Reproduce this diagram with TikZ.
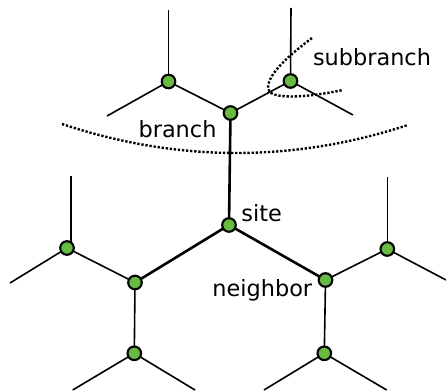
\documentclass[tikz,border=0pt]{standalone}
\usepackage{fontspec}
\setmainfont{DejaVu Sans}
\definecolor{sitegreen}{HTML}{66BB40}
\begin{document}
\begin{tikzpicture}[x=1pt,y=-1pt,
  site/.style={circle,draw=black,fill=sitegreen,line width=2.1pt,inner sep=0pt,minimum size=13.6pt},
  thin edge/.style={line width=1.6pt},
  thick edge/.style={line width=2.6pt},
  dotline/.style={line width=2.4pt,dash pattern=on 2.3pt off 1.8pt},
  lbl/.style={anchor=base,inner sep=0pt,font=\fontsize{22.4}{26}\selectfont}]
\useasboundingbox (0,0) rectangle (446,390);
% site coordinates
\coordinate (S) at (229,225);
\coordinate (B) at (230.5,113);
\coordinate (A) at (168.5,81.5);
\coordinate (C) at (290.5,81);
\coordinate (L) at (135,282.5);
\coordinate (R) at (325.5,280);
\coordinate (FL) at (67,248);
\coordinate (FR) at (387.3,249);
\coordinate (LB) at (134.3,353.3);
\coordinate (RB) at (324.3,353.3);
% free ends
\coordinate (a1) at (168.5,10);
\coordinate (a2) at (107,116);
\coordinate (c1) at (291,8);
\coordinate (c2) at (353,115);
\coordinate (fl1) at (70.7,176);
\coordinate (fl2) at (10,283);
\coordinate (fr1) at (387.3,177);
\coordinate (fr2) at (446,280);
\coordinate (lb1) at (72.7,390);
\coordinate (lb2) at (195,390);
\coordinate (rb1) at (264,390);
\coordinate (rb2) at (386.7,390);
% dotted curves
\coordinate (d1) at (62,124);
\coordinate (d2) at (408,125);
\draw[dotline] (d1) .. controls (177.3,162.3) and (292.7,162.7) .. (d2);
\coordinate (e1) at (312,38);
\coordinate (e2) at (268,88);
\coordinate (e3) at (343,90);
\draw[dotline] (e1) .. controls (288,56) and (268,74) .. (e2)
  .. controls (268,100) and (305,98) .. (e3);
% edges
\draw[thick edge] (S) -- (B);
\draw[thick edge] (S) -- (L);
\draw[thick edge] (S) -- (R);
\draw[thin edge] (B) -- (A);
\draw[thin edge] (B) -- (C);
\draw[thin edge] (A) -- (a1);
\draw[thin edge] (A) -- (a2);
\draw[thin edge] (C) -- (c1);
\draw[thin edge] (C) -- (c2);
\draw[thin edge] (L) -- (FL);
\draw[thin edge] (L) -- (LB);
\draw[thin edge] (R) -- (FR);
\draw[thin edge] (R) -- (RB);
\draw[thin edge] (fl1) -- (fl1 |- FL);
\draw[thin edge] (FL) -- (fl2);
\draw[thin edge] (FR) -- (fr1);
\draw[thin edge] (FR) -- (fr2);
\draw[thin edge] (LB) -- (lb1);
\draw[thin edge] (LB) -- (lb2);
\draw[thin edge] (RB) -- (rb1);
\draw[thin edge] (RB) -- (rb2);
% site nodes
\foreach \p in {S,B,A,C,L,R,FL,FR,LB,RB} \node[site] (n\p) at (\p) {};
% labels
\node[lbl] (tsite) at (261.7,221.7) {site};
\node[lbl] (tneighbor) at (262.3,296.7) {neighbor};
\node[lbl] (tbranch) at (177.5,137.3) {branch};
\node[lbl] (tsub) at (372,66) {subbranch};
\end{tikzpicture}
\end{document}
